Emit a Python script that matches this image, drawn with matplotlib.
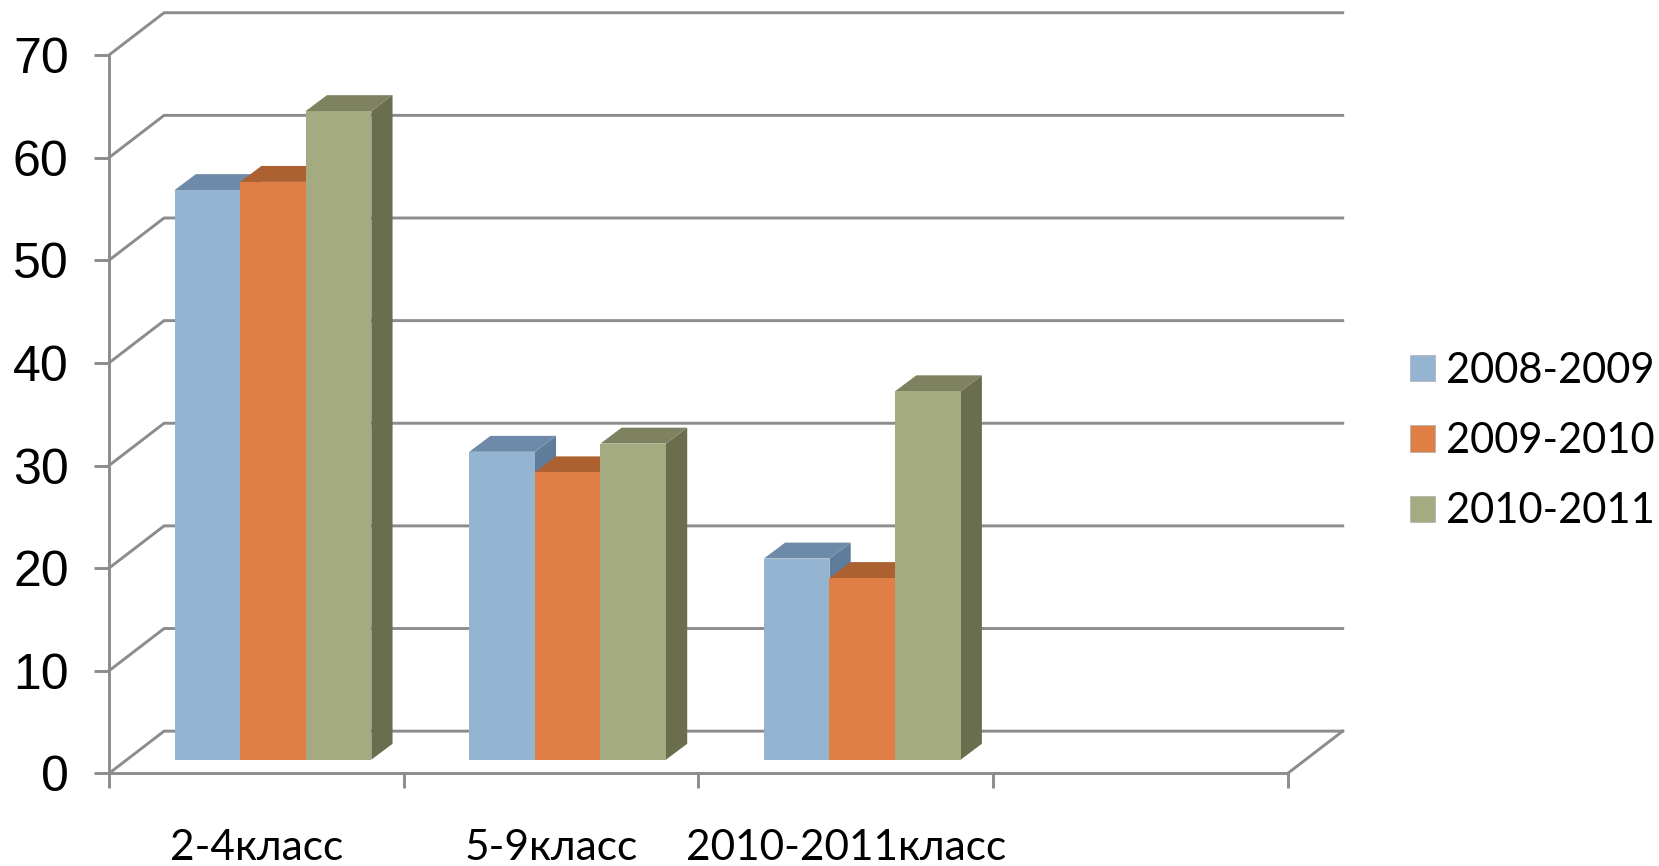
import matplotlib
matplotlib.use("Agg")
import matplotlib.pyplot as plt
from matplotlib.patches import Patch, Polygon

categories = ["2-4класс", "5-9класс", "2010-2011класс"]
seasons = ["2008-2009", "2009-2010", "2010-2011"]
values_0809 = [55.5, 30.0, 19.6]
values_0910 = [56.3, 28.0, 17.7]
values_1011 = [63.2, 30.8, 35.9]
yticks = [0, 10, 20, 30, 40, 50, 60, 70]

front_colors = ["#94B4D2", "#DF7F46", "#A5AB80"]
top_colors = ["#6D8BA9", "#AD6030", "#7F8260"]
side_colors = ["#5F7D9A", "#A05A2C", "#6A6E4E"]
grid_color = "#8C8C8C"

W, H = 1659, 866
SCALE = 1659 / 1568.0

# depth of the fake 3d box, in data units
wall_dx, wall_dy = 0.187, 4.12
bar_dx, bar_dy = 0.072, 1.55
floor_dy = 1.34
bar_w = 0.2226
bar_start = 0.2226

fig = plt.figure(figsize=(W / 100, H / 100), dpi=100)
left = 103 * SCALE / W
right = 1217 * SCALE / W
bottom = 1 - 731 * SCALE / H
top = 1 - 52 * SCALE / H
ax = fig.add_axes([left, bottom, right - left, top - bottom])
ax.set_xlim(0, 4)
ax.set_ylim(0, 70)
ax.patch.set_visible(False)

for s in ["top", "right"]:
    ax.spines[s].set_visible(False)
for s in ["left", "bottom"]:
    ax.spines[s].set_color(grid_color)
    ax.spines[s].set_linewidth(2.1)

# back wall and side wall lines
for v in yticks:
    ax.plot([0, wall_dx, 4 + wall_dx], [v, v + wall_dy, v + wall_dy], color=grid_color,
            lw=2.1, clip_on=False, zorder=1, solid_joinstyle="miter")
ax.plot([4, 4 + wall_dx], [0, wall_dy], color=grid_color, lw=2.1, clip_on=False, zorder=1)

series = [values_0809, values_0910, values_1011]
z = 3
for c in range(len(categories)):
    for i, vals in enumerate(series):
        x0 = c + bar_start + i * bar_w
        x1 = x0 + bar_w
        y0 = floor_dy
        y1 = floor_dy + vals[c]
        side = [(x1, y0), (x1 + bar_dx, y0 + bar_dy), (x1 + bar_dx, y1 + bar_dy), (x1, y1)]
        roof = [(x0, y1), (x1, y1), (x1 + bar_dx, y1 + bar_dy), (x0 + bar_dx, y1 + bar_dy)]
        front = [(x0, y0), (x1, y0), (x1, y1), (x0, y1)]
        ax.add_patch(Polygon(side, fc=side_colors[i], ec="none", zorder=z, clip_on=False))
        ax.add_patch(Polygon(roof, fc=top_colors[i], ec="none", zorder=z, clip_on=False))
        ax.add_patch(Polygon(front, fc=front_colors[i], ec="none", zorder=z, clip_on=False))
        z += 1

ax.set_yticks(yticks)
ax.set_yticklabels([str(v) for v in yticks], family="Liberation Sans", fontsize=36, color="black")
ax.tick_params(axis="y", length=11, width=2.1, color=grid_color, pad=18)

ax.set_xticks([0, 1, 2, 3, 4])
ax.set_xticklabels([])
ax.tick_params(axis="x", which="major", length=11, width=2.1, color=grid_color)
ax.set_xticks([0.5, 1.5, 2.5], minor=True)
ax.set_xticklabels(categories, minor=True, family=["Lato", "Open Sans"], fontsize=30.5)
ax.tick_params(axis="x", which="minor", length=0, pad=40)

handles = [Patch(fc=front_colors[i], ec="#B0B0B0", lw=0.5, label=seasons[i]) for i in range(3)]
fig.legend(handles=handles, loc="center left", bbox_to_anchor=(1333 * SCALE / W, 1 - 417 * SCALE / H),
           frameon=False, handlelength=0.585, handleheight=0.585, handletextpad=0.28,
           labelspacing=0.77, borderpad=0, borderaxespad=0,
           prop={"family": ["Lato", "Open Sans"], "size": 30})

fig.savefig("out.png", dpi=100)
